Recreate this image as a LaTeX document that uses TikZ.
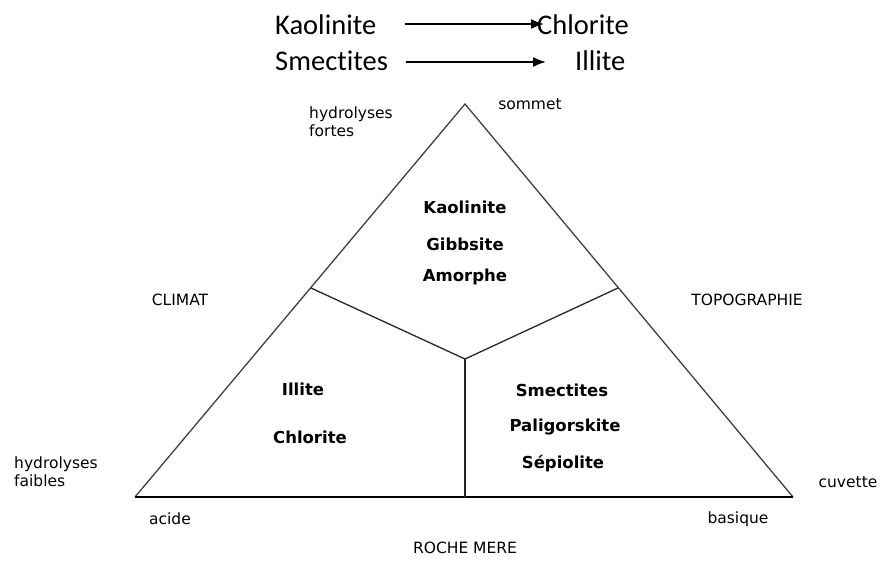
\documentclass[tikz,border=0pt]{standalone}
\usepackage{fontspec}
\setmainfont{DejaVu Sans}
\newfontfamily\calib[Ligatures=NoCommon]{Carlito}
\usetikzlibrary{arrows.meta}
\begin{document}
\begin{tikzpicture}[x=1pt,y=-1pt,
  big/.style={font=\calib\fontsize{28.5}{30}\selectfont, inner sep=0pt},
  small/.style={font=\fontsize{15.5}{17}\selectfont, inner sep=0pt},
  smallml/.style={font=\fontsize{15.5}{17.5}\selectfont, inner sep=0pt, align=left},
  mineral/.style={font=\bfseries\fontsize{16.5}{18}\selectfont, inner sep=0pt},
  edge/.style={line width=1.3pt, draw=black!75},
  inner/.style={line width=1.3pt, draw=black!85},
  arr/.style={line width=1.8pt, -{Latex[length=13pt,width=10pt]}}]
\useasboundingbox (0,0) rectangle (885,562);
% vertices
\coordinate (A) at (465,104);
\coordinate (L) at (135,497);
\coordinate (R) at (793,497);
\coordinate (P) at (311,288);
\coordinate (Q) at (618,288);
\coordinate (C) at (465,359);
\coordinate (B) at (465,497);
\draw[edge] (L) -- (A) -- (R);
\draw[line width=1.4pt] (L) -- (R);
\draw[inner] (P) -- (C) -- (Q);
\draw[inner] (C) -- (B);
% top
\node[big, anchor=west] (k1) at (275,25) {Kaolinite};
\node[big, anchor=west] (c1) at (537,25) {Chlorite};
\node[big, anchor=west] (s1) at (275,61) {Smectites};
\node[big, anchor=west] (i1) at (575,61) {Illite};
\coordinate (k1e) at (405,24);
\coordinate (c1w) at (544,24);
\coordinate (s1e) at (406,62);
\coordinate (i1w) at (546,62);
\draw[arr] (k1e) -- (c1w);
\draw[arr] (s1e) -- (i1w);
% labels
\node[small] (som) at (530,104) {sommet};
\node[smallml, anchor=north west] (hf) at (309,107) {hydrolyses\\fortes};
\node[small] (cli) at (180,300) {CLIMAT};
\node[small] (top) at (747,300) {TOPOGRAPHIE};
\node[smallml, anchor=north west] (hb) at (14,457) {hydrolyses\\faibles};
\node[small] (cuv) at (848,482) {cuvette};
\node[small] (aci) at (170,519) {acide};
\node[small] (bas) at (738,519) {basique};
\node[small] (roc) at (465,548) {ROCHE MERE};
% minerals
\node[mineral] (m1) at (465,207) {Kaolinite};
\node[mineral] (m2) at (465,244) {Gibbsite};
\node[mineral] (m3) at (465,277) {Amorphe};
\node[mineral] (m4) at (303,389) {Illite};
\node[mineral] (m5) at (310,437) {Chlorite};
\node[mineral] (m6) at (562,390) {Smectites};
\node[mineral] (m7) at (565,427) {Paligorskite};
\node[mineral] (m8) at (563,464) {Sépiolite};
\end{tikzpicture}
\end{document}
